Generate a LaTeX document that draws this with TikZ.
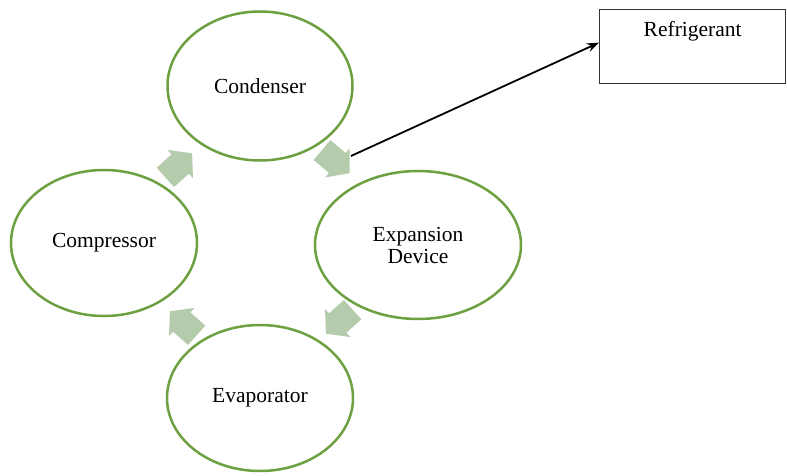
\documentclass[tikz,border=0pt]{standalone}
\usepackage{fontspec}
\setmainfont{Liberation Serif}
\usetikzlibrary{arrows.meta}
\definecolor{ringc}{RGB}{108,160,64}
\definecolor{fatc}{RGB}{181,204,172}
\tikzset{
  x=1pt,y=1pt,
  ring/.style={draw=ringc, line width=2.5pt, ellipse, inner sep=0pt, fill=white},
  lbl/.style={font=\fontsize{21.5}{25}\selectfont, text=black, align=center},
  fat/.pic={\fill[fatc] (-17,-13) -- (3,-13) -- (3,-19) -- (19,0) -- (3,19) -- (3,13) -- (-17,13) -- cycle;}
}
\usetikzlibrary{shapes.geometric}
\begin{document}
\begin{tikzpicture}
\useasboundingbox (0,0) rectangle (787,-476);
\node[ring, minimum width=185pt, minimum height=149pt] (cond) at (260,-86) {};
\node[lbl] (condt) at (cond.center) {Condenser};
\node[ring, minimum width=186pt, minimum height=146pt] (comp) at (104,-243) {};
\node[lbl] (compt) at (comp.center) {Compressor};
\node[ring, minimum width=206pt, minimum height=148pt] (exp) at (418,-245) {};
\node[lbl] (expt) at (exp.center) {Expansion\\[-3pt]Device};
\node[ring, minimum width=186pt, minimum height=146pt] (evap) at (260,-398) {};
\node[lbl] (evapt) at (evap.center) {Evaporator};

\pic[rotate=42] at (178,-166) {fat};
\pic[rotate=-40] at (335,-161) {fat};
\pic[rotate=-138] at (340,-321) {fat};
\pic[rotate=138] at (184,-324) {fat};

\node[draw=black!80, line width=1.3pt, minimum width=186pt, minimum height=74pt, anchor=north west, inner sep=0pt] (box) at (599,-9) {};
\node[lbl, anchor=north] (boxt) at ([yshift=-9pt]box.north) {Refrigerant};
\coordinate (src) at (351,-156);
\coordinate (dst) at ([yshift=4pt]box.west);
\draw[line width=1.8pt, -{Stealth[length=12pt,width=9pt]}] (src) -- (dst);
\end{tikzpicture}
\end{document}
